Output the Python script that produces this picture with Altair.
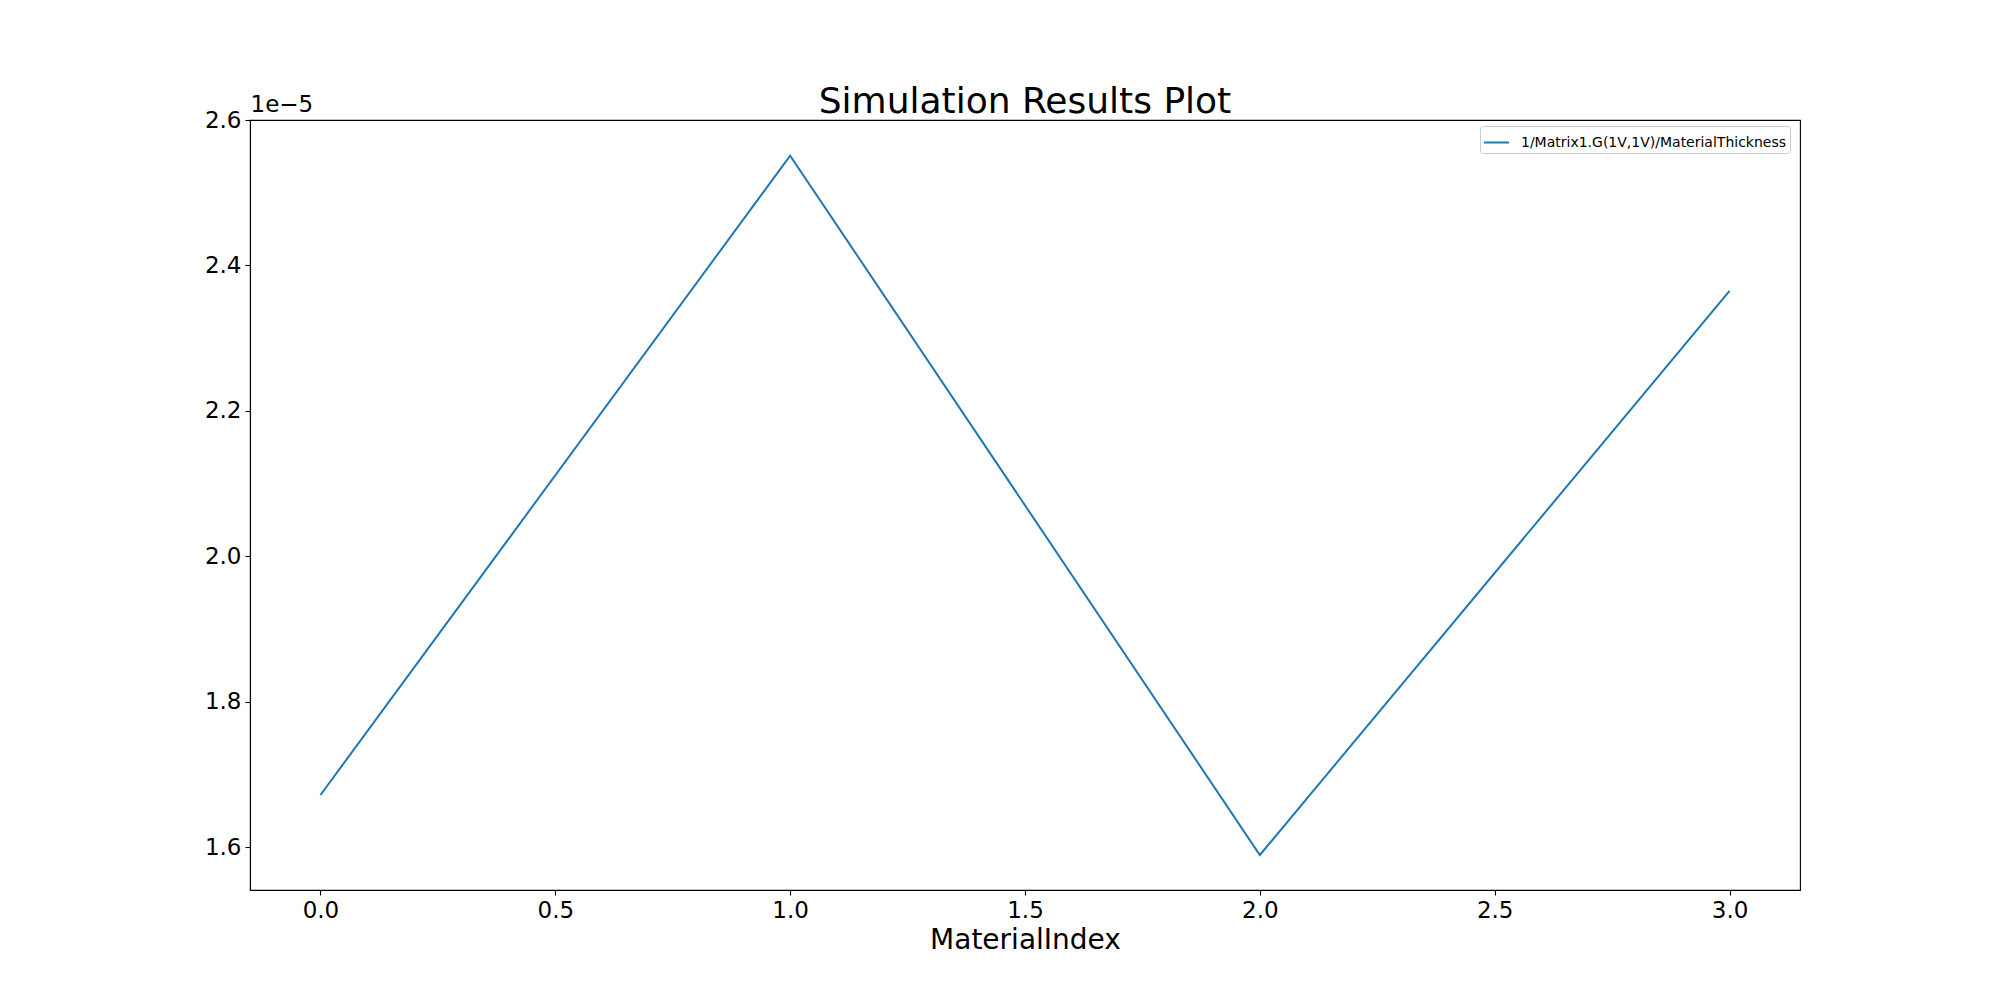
import altair as alt
import pandas as pd

material_index = [0, 1, 2, 3]
values = [1.672e-5, 2.551e-5, 1.5895e-5, 2.365e-5]
series_name = "1/Matrix1.G(1V,1V)/MaterialThickness"
x_ticks = [0.0, 0.5, 1.0, 1.5, 2.0, 2.5, 3.0]
y_ticks = [1.6e-5, 1.8e-5, 2.0e-5, 2.2e-5, 2.4e-5, 2.6e-5]

df = pd.DataFrame({"MaterialIndex": material_index, "value": values,
                   "series": [series_name] * len(values)})

FONT = "DejaVu Sans"

chart = alt.Chart(df).mark_line(strokeWidth=2.0).encode(
    x=alt.X("MaterialIndex:Q",
            scale=alt.Scale(domain=[-0.15, 3.15], nice=False, zero=False),
            axis=alt.Axis(values=x_ticks, format=".1f", title="MaterialIndex",
                          grid=False, labelFontSize=23, titleFontSize=28,
                          labelPadding=4, titlePadding=4,
                          titleFontWeight="normal")),
    y=alt.Y("value:Q",
            scale=alt.Scale(domain=[1.5414e-5, 2.60001e-5], nice=False, zero=False),
            axis=alt.Axis(values=y_ticks, labelExpr="format(datum.value*1e5, '.1f')",
                          title="1e\u22125", titleAngle=0, titleX=0, titleY=-4,
                          titleAlign="left", titleBaseline="bottom",
                          titleFontSize=23, titleFontWeight="normal",
                          grid=False, labelFontSize=23, labelPadding=4)),
    color=alt.Color("series:N", scale=alt.Scale(range=["#1f77b4"]),
                    legend=alt.Legend(title=None, orient="none",
                                      legendX=1230, legendY=6,
                                      symbolType="stroke", symbolSize=625,
                                      symbolStrokeWidth=2.0, labelFontSize=14,
                                      labelFont=FONT, labelLimit=1000,
                                      labelColor="black", labelOffset=11,
                                      strokeColor="#cccccc",
                                      cornerRadius=3, padding=3,
                                      fillColor="white")),
).properties(
    width=1550, height=770,
    background="white",
    title=alt.TitleParams("Simulation Results Plot", fontSize=36, font=FONT,
                          fontWeight="normal", anchor="middle", offset=8,
                          dy=36, color="black"),
    autosize=alt.AutoSizeParams(type="none"),
    padding={"left": 250, "top": 120, "right": 200, "bottom": 110},
).configure_view(stroke="black", strokeWidth=1.1).configure_axis(
    labelFont=FONT, titleFont=FONT, labelColor="black", titleColor="black",
    domainColor="black", tickColor="black", tickSize=5, tickWidth=1.1,
    domainWidth=1.1,
)

chart.save("out.html", embed_options={"renderer": "svg", "actions": False})
